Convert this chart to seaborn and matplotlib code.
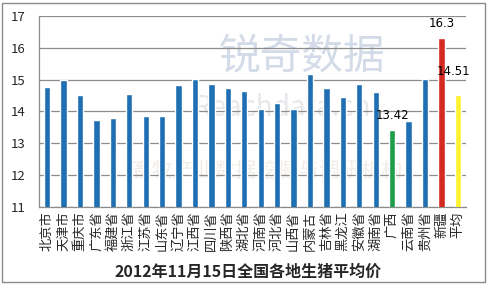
import matplotlib
matplotlib.use('Agg')
import seaborn as sns
import matplotlib.pyplot as plt
from matplotlib.patches import Rectangle

# --- Data ---
regions = ['北京市', '天津市', '重庆市', '广东省', '福建省', '浙江省', '江苏省', '山东省',
           '辽宁省', '江西省', '四川省', '陕西省', '湖北省', '河南省', '河北省', '山西省',
           '内蒙古', '吉林省', '黑龙江', '安徽省', '湖南省', '广西', '云南省', '贵州省',
           '新疆', '平均']
prices = [14.76, 14.98, 14.51, 13.73, 13.80, 14.54, 13.87, 13.86,
          14.83, 15.02, 14.86, 14.74, 14.64, 14.08, 14.27, 14.08,
          15.18, 14.74, 14.46, 14.86, 14.61, 13.42, 13.70, 15.02,
          16.30, 14.51]
bar_colors = ['#1F6FB2'] * 21 + ['#1E9E4A', '#1F6FB2', '#1F6FB2', '#D42A22', '#FFF22E']
labelled = {'广西': '13.42', '新疆': '16.3', '平均': '14.51'}

sns.set_style('white')
plt.rcParams['font.family'] = ['Noto Sans CJK SC', 'DejaVu Sans']

fig = plt.figure(figsize=(4.87, 2.85), dpi=100)
ax = fig.add_axes([0.080, 0.274, 0.877, 0.670])

# faint watermark text, drawn behind the axes
fig.text(0.62, 0.80, '锐奇数据', fontsize=30, color='#B8C4DA', alpha=0.6,
         ha='center', va='center', zorder=-1)
fig.text(0.58, 0.62, 'Reachdata.cn', fontsize=20, color='#D0D3D8', alpha=0.5,
         ha='center', va='center', zorder=-1)
fig.text(0.55, 0.40, '畜牧产业数据挖掘与调研机构', fontsize=15, color='#E2DAD2', alpha=0.5,
         ha='center', va='center', zorder=-1)

sns.barplot(x=regions, y=prices, hue=regions, palette=bar_colors, legend=False,
            width=0.38, saturation=1, ax=ax, zorder=3)
ax.patch.set_alpha(0)

ax.set_ylim(11, 17)
ax.set_xlim(-0.5, len(regions) - 0.5)
ax.set_yticks(range(11, 18))
ax.yaxis.grid(True, color='#8C8C8C', linewidth=0.9)
ax.set_axisbelow(True)

for i, name in enumerate(regions):
    if name in labelled:
        dx = -0.25 if name == '平均' else 0
        dy = 0.55 if name == '平均' else 0.25
        ax.text(i + dx, prices[i] + dy, labelled[name], ha='center', va='bottom',
                fontsize=8.5, color='black', family=['DejaVu Sans'])

ax.set_xticks(range(len(regions)))
ax.set_xticklabels(regions, rotation=90, fontsize=9.5)
ax.set_xticks([i - 0.5 for i in range(len(regions) + 1)], minor=True)
ax.tick_params(axis='x', which='major', length=0, pad=3)
ax.tick_params(axis='x', which='minor', direction='in', length=3, color='#8C8C8C')
ax.tick_params(axis='y', length=0, labelsize=9.5, pad=10)

for s in ['top', 'right']:
    ax.spines[s].set_visible(False)
for s in ['left', 'bottom']:
    ax.spines[s].set_color('#8C8C8C')
    ax.spines[s].set_linewidth(0.9)
ax.set_xlabel('')
ax.set_ylabel('')

fig.text(0.51, 0.045, '2012年11月15日全国各地生猪平均价', ha='center', va='center',
         fontsize=11.5, fontweight='bold')

fig.patches.append(Rectangle((0.005, 0.012), 0.99, 0.976, transform=fig.transFigure,
                             fill=False, edgecolor='#8C8C8C', linewidth=1))

fig.savefig('out.png', dpi=100)
